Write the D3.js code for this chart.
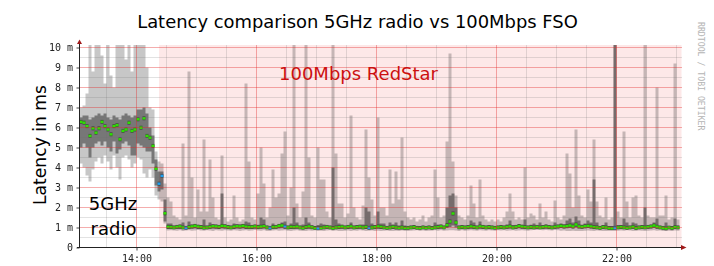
<!DOCTYPE html>
<html>
<head>
<meta charset="utf-8">
<script src="https://cdn.jsdelivr.net/npm/d3@7"></script>
<style>
    body { margin: 0; background: #fff; }
    svg { display: block; font-family: "DejaVu Sans", sans-serif; }
    .tick text { font-family: "DejaVu Sans Mono", monospace; font-size: 10px; fill: #222; }
    .tick line { stroke: #444; }
    .axis { filter: grayscale(100%); }
</style>
</head>
<body>
<div id="chart"></div>
<script>
// samples every 3 minutes, first one at 13:03
var startTime = "13:03";
var stepMinutes = 3;
var endTime = "23:05";
var fsoStart = "14:22:30";

var median = [
    6.28,6.24,6.07,5.58,5.96,5.74,5.96,6.28,6.07,5.9,
    5.66,6.07,6.12,5.41,5.83,5.9,6.24,5.83,5.9,6.41,
    5.99,6.46,5.58,5.49,5.08,3.94,3.19,3.58,1.71,1.03,
    1.02,1.0,1.03,1.05,1.0,0.98,1.02,1.05,1.08,1.04,
    1.02,0.99,1.0,1.03,1.06,1.05,1.03,1.08,1.06,1.02,
    1.0,1.04,1.06,1.05,1.08,1.04,1.02,1.03,1.05,1.02,
    1.04,1.06,1.0,0.98,1.02,1.03,1.08,1.1,1.04,1.0,
    1.03,1.02,1.04,1.0,0.98,1.02,1.05,1.01,0.97,0.96,
    0.98,1.0,1.03,1.0,0.97,1.0,1.02,1.04,1.0,1.03,
    1.05,1.0,1.02,1.04,1.0,1.03,0.98,1.0,1.02,1.05,
    1.03,1.0,0.98,1.0,1.03,1.0,0.98,1.0,0.97,0.98,
    1.0,1.02,0.98,0.97,1.0,0.98,1.0,0.97,1.0,1.02,
    1.05,1.0,1.12,1.3,1.7,1.25,1.0,1.02,1.0,1.02,
    1.05,1.02,1.0,1.05,1.03,1.0,1.02,1.0,0.98,1.0,
    1.02,1.0,1.03,1.05,1.0,1.03,1.07,1.04,1.02,1.0,
    1.02,1.0,1.03,1.0,1.02,1.04,1.02,1.0,1.03,1.05,
    1.08,1.05,1.07,1.1,1.05,1.15,1.05,1.03,1.06,1.08,
    1.05,1.02,1.0,0.98,1.02,1.0,0.97,0.96,0.98,1.0,
    1.02,1.0,0.98,1.0,1.03,0.97,1.0,1.02,1.0,1.03,
    1.05,1.1,1.04,1.0,0.98,0.95,1.0,0.97,1.02,1.0
];

// slowest ping of each sample (values above 10 ms are cut by the graph)
var pingMax = [
    7.0,7.1,7.7,10.5,8.8,10.5,10.5,9.6,8.2,10.5,
    8.6,8.0,10.5,10.5,10.5,9.4,10.5,8.8,10.5,10.5,
    10.5,10.5,9.0,7.0,6.9,4.8,4.3,4.2,3.2,2.5,
    2.3,1.6,1.5,1.4,5.2,1.6,8.8,3.5,1.5,2.9,
    1.8,5.4,1.8,4.4,2.5,1.5,1.4,4.6,1.5,1.3,
    1.4,2.6,1.5,1.3,1.4,8.2,4.3,1.5,1.4,2.7,
    5.0,3.2,1.5,2.0,3.9,2.5,2.7,4.7,5.8,1.6,
    3.0,10.5,2.2,1.5,2.8,10.5,4.5,1.6,1.5,5.0,
    3.4,3.4,1.8,1.5,10.5,4.7,2.2,2.2,1.5,1.7,
    6.6,2.0,1.5,1.4,2.1,5.9,3.5,2.4,1.6,6.5,
    2.0,2.0,1.6,3.9,2.2,3.8,2.4,5.5,1.8,1.5,
    1.4,1.5,1.3,1.4,1.6,1.3,1.5,1.6,3.9,2.5,
    1.5,1.6,5.3,9.7,4.3,2.6,1.6,1.5,1.4,1.6,
    3.1,2.2,1.5,3.4,1.6,1.4,1.3,1.4,1.3,1.4,
    1.3,1.5,1.8,2.7,1.8,1.4,1.5,1.4,4.0,1.5,
    1.7,1.6,1.4,2.2,1.5,1.8,1.4,1.3,2.35,1.5,
    1.4,1.6,4.7,3.7,2.0,5.9,2.6,1.6,1.5,2.9,
    2.3,5.4,2.3,1.6,1.5,2.5,1.4,1.5,10.5,1.8,
    1.5,5.8,2.3,1.5,2.5,2.6,1.6,1.5,10.5,1.6,
    1.5,1.5,8.0,1.6,1.6,2.6,1.4,1.5,9.2,1.4
];

// fastest ping of each sample
var pingMin = [
    4.2,4.0,3.6,3.3,3.9,4.3,4.5,4.2,4.6,4.3,
    3.9,4.6,4.0,3.4,4.5,4.6,4.4,4.0,4.2,4.5,
    4.4,3.7,3.5,3.9,3.5,2.6,2.4,2.3,1.2,0.85,
    0.86,0.85,0.84,0.86,0.83,0.85,0.86,0.84,0.85,0.87,
    0.85,0.84,0.86,0.85,0.83,0.86,0.85,0.84,0.86,0.85,
    0.84,0.86,0.85,0.83,0.85,0.86,0.84,0.85,0.87,0.85,
    0.84,0.86,0.83,0.82,0.85,0.86,0.84,0.85,0.86,0.84,
    0.83,0.85,0.86,0.84,0.82,0.83,0.85,0.84,0.86,0.85,
    0.84,0.83,0.85,0.86,0.84,0.85,0.83,0.82,0.84,0.85,
    0.83,0.85,0.84,0.86,0.85,0.83,0.84,0.85,0.82,0.84,
    0.83,0.84,0.85,0.83,0.82,0.84,0.83,0.85,0.84,0.83,
    0.84,0.85,0.86,0.84,0.85,0.83,0.84,0.85,0.86,0.84,
    0.86,0.84,0.85,0.86,0.86,0.85,0.83,0.86,0.84,0.85,
    0.86,0.85,0.84,0.86,0.85,0.84,0.86,0.85,0.84,0.86,
    0.85,0.86,0.84,0.85,0.86,0.84,0.85,0.86,0.85,0.84,
    0.86,0.88,0.87,0.89,0.86,0.88,0.86,0.85,0.87,0.86,
    0.84,0.85,0.83,0.82,0.84,0.83,0.82,0.83,0.84,0.85,
    0.84,0.83,0.85,0.84,0.83,0.82,0.84,0.85,0.83,0.84,
    0.85,0.84,0.86,0.85,0.83,0.84,0.85,0.84,0.82,0.84,
    0.85,0.86,0.84,0.85,0.83,0.82,0.84,0.83,0.85,0.84
];

// dense part of the smoke, lower and upper edge
var pingLow = [
    5.0,5.2,5.0,4.5,5.0,5.2,5.3,5.1,5.3,5.0,
    4.8,5.3,4.7,4.9,5.2,5.3,5.1,4.6,4.6,5.2,
    5.1,5.0,4.8,4.8,4.2,3.1,2.8,2.9,1.3,0.93,
    0.93,0.92,0.94,0.93,0.92,0.91,0.93,0.94,0.95,0.93,
    0.92,0.91,0.92,0.94,0.95,0.94,0.93,0.95,0.94,0.93,
    0.92,0.93,0.95,0.94,0.95,0.93,0.92,0.93,0.94,0.93,
    0.94,0.95,0.92,0.91,0.93,0.94,0.95,0.96,0.94,0.92,
    0.93,0.92,0.94,0.92,0.91,0.93,0.94,0.92,0.9,0.89,
    0.91,0.92,0.94,0.92,0.9,0.92,0.93,0.94,0.92,0.93,
    0.94,0.92,0.93,0.94,0.92,0.93,0.9,0.91,0.93,0.94,
    0.93,0.92,0.9,0.91,0.92,0.9,0.91,0.9,0.89,0.9,
    0.92,0.93,0.91,0.9,0.92,0.91,0.92,0.9,0.92,0.93,
    0.94,0.92,0.97,1.02,1.1,1.0,0.92,0.93,0.92,0.93,
    0.94,0.93,0.92,0.94,0.93,0.92,0.93,0.92,0.91,0.92,
    0.93,0.92,0.94,0.95,0.92,0.94,0.96,0.94,0.93,0.92,
    0.93,0.92,0.94,0.92,0.93,0.95,0.93,0.92,0.94,0.95,
    0.97,0.95,0.96,0.98,0.95,1.0,0.95,0.94,0.96,0.97,
    0.95,0.93,0.92,0.9,0.93,0.92,0.89,0.88,0.9,0.92,
    0.93,0.92,0.9,0.92,0.94,0.89,0.92,0.93,0.92,0.94,
    0.95,0.98,0.94,0.92,0.9,0.88,0.92,0.89,0.93,0.92
];

var pingHigh = [
    6.5,6.6,6.6,6.4,6.5,6.6,6.7,6.6,6.7,6.5,
    6.4,6.6,6.5,6.4,6.6,6.7,6.6,6.5,6.6,6.9,
    6.9,7.0,6.7,6.0,5.6,4.4,3.8,3.8,2.4,1.2,
    1.2,1.1,1.12,1.15,1.25,1.08,1.3,1.15,1.18,1.14,
    1.12,1.4,1.1,1.25,1.16,1.15,1.13,2.7,1.16,1.12,
    1.1,1.2,1.16,1.15,1.18,1.3,1.25,1.13,1.15,1.14,
    1.5,1.4,1.1,1.08,1.2,1.13,1.18,1.25,1.3,1.1,
    1.2,2.0,1.25,1.1,1.15,1.5,1.25,1.11,1.07,1.12,
    1.2,1.15,1.13,1.1,4.0,1.4,1.2,1.14,1.1,1.13,
    1.25,1.1,1.12,1.14,1.15,2.0,1.8,1.2,1.12,1.8,
    1.2,1.2,1.08,1.25,1.15,1.25,1.1,1.35,1.1,1.08,
    1.1,1.12,1.08,1.07,1.1,1.08,1.1,1.07,1.25,1.15,
    1.15,1.1,2.0,2.6,2.7,2.0,1.1,1.12,1.1,1.12,
    1.35,1.25,1.1,1.3,1.13,1.1,1.12,1.1,1.08,1.1,
    1.12,1.1,1.15,1.35,1.12,1.13,1.17,1.14,1.4,1.1,
    1.14,1.2,1.13,1.25,1.12,1.16,1.12,1.1,1.25,1.15,
    1.2,1.16,1.35,1.45,1.25,1.55,1.35,1.14,1.2,1.35,
    1.25,3.4,1.25,1.08,1.12,1.25,1.07,1.07,10.5,1.12,
    1.12,1.45,1.25,1.1,1.25,1.2,1.1,1.12,2.0,1.13,
    1.15,1.25,1.45,1.1,1.08,1.25,1.07,1.07,1.45,1.1
];

// samples where some pings were lost
var lossTimes = ["14:21", "14:24", "14:48", "16:12", "16:27", "17:00", "17:51", "21:57"];

var yTicks = [0, 1, 2, 3, 4, 5, 6, 7, 8, 9, 10];
var xTicks = ["14:00", "16:00", "18:00", "20:00", "22:00"];

function parseT(s) {
    var p = s.split(":");
    return new Date(2000, 0, 1, +p[0], +p[1], +(p[2] || 0));
}

function fitText(sel, w) {
    var len = sel.node().getComputedTextLength();
    var fs = parseFloat(sel.style("font-size"));
    sel.style("font-size", (fs * w / len) + "px");
}

function init() {
    var W = 714, H = 266;
    var left = 79.5, right = 681.5, top = 45, bottom = 247.5;

    var svg = d3.select("#chart")
        .append("svg")
        .attr("width", W)
        .attr("height", H);

    svg.append("rect").attr("width", W).attr("height", H).attr("fill", "#fff");

    var x = d3.scaleTime()
        .domain([parseT(startTime), parseT(endTime)])
        .range([left, right]);

    var y = d3.scaleLinear()
        .domain([0, 10])
        .range([247.5, 47.5]);

    var t0 = parseT(startTime);
    var times = median.map(function (d, i) { return new Date(+t0 + i * stepMinutes * 60000); });
    var tEnd = new Date(+t0 + median.length * stepMinutes * 60000);
    var lossSet = {};
    lossTimes.forEach(function (s) { lossSet[+parseT(s)] = true; });

    // pink background for the FSO period
    svg.append("rect")
        .attr("x", x(parseT(fsoStart)))
        .attr("y", top)
        .attr("width", right - x(parseT(fsoStart)))
        .attr("height", bottom - top)
        .attr("fill", "#fde8e8");

    svg.append("defs").append("clipPath")
        .attr("id", "clip")
        .append("rect")
        .attr("x", left)
        .attr("y", top)
        .attr("width", right - left)
        .attr("height", bottom - top);

    var plot = svg.append("g").attr("clip-path", "url(#clip)");

    function band(lo, hi) {
        var pts = times.map(function (t, i) { return { t: t, lo: lo[i], hi: hi[i] }; });
        pts.push({ t: tEnd, lo: lo[lo.length - 1], hi: hi[hi.length - 1] });
        return d3.area()
            .x(function (d) { return x(d.t); })
            .y0(function (d) { return y(d.lo); })
            .y1(function (d) { return y(d.hi); })
            .curve(d3.curveStepAfter)(pts);
    }

    plot.append("path")
        .attr("d", band(pingMin, pingMax))
        .attr("fill", "#000")
        .attr("fill-opacity", 0.22);

    plot.append("path")
        .attr("d", band(pingLow, pingHigh))
        .attr("fill", "#000")
        .attr("fill-opacity", 0.4);

    // median: short dark halo and a coloured bar per sample
    function stepWidth(i) {
        return x(new Date(+times[i] + stepMinutes * 60000)) - x(times[i]);
    }

    plot.selectAll("rect.halo")
        .data(median)
        .enter()
        .append("rect")
        .attr("class", "halo")
        .attr("x", function (d, i) { return x(times[i]); })
        .attr("width", function (d, i) { return stepWidth(i); })
        .attr("y", function (d) { return y(d) - 2; })
        .attr("height", 4)
        .attr("fill", "#000")
        .attr("fill-opacity", 0.4);

    plot.selectAll("rect.med")
        .data(median)
        .enter()
        .append("rect")
        .attr("class", "med")
        .attr("x", function (d, i) { return x(times[i]); })
        .attr("width", function (d, i) { return stepWidth(i); })
        .attr("y", function (d) { return y(d) - 1.25; })
        .attr("height", 2.5)
        .attr("fill", function (d, i) { return lossSet[+times[i]] ? "#1ea0f0" : "#2ee000"; });

    // grid on top of the data
    var grid = svg.append("g").attr("shape-rendering", "crispEdges");
    d3.range(1, 21).forEach(function (k) {
        var v = k / 2;
        grid.append("line")
            .attr("x1", left).attr("x2", right)
            .attr("y1", y(v)).attr("y2", y(v))
            .attr("stroke", k % 2 ? "rgba(110,110,110,0.2)" : "rgba(225,40,40,0.38)");
    });

    var gt = d3.timeMinute.every(30).range(parseT("13:30"), parseT(endTime));
    gt.forEach(function (t) {
        var major = t.getMinutes() === 0 && t.getHours() % 2 === 0;
        grid.append("line")
            .attr("x1", x(t)).attr("x2", x(t))
            .attr("y1", top).attr("y2", bottom)
            .attr("stroke", major ? "rgba(225,40,40,0.38)" : "rgba(110,110,110,0.2)");
    });

    // axes
    var yAxis = svg.append("g")
        .attr("class", "axis")
        .attr("transform", "translate(" + left + ",0)")
        .call(d3.axisLeft(y)
            .tickValues(yTicks)
            .tickSize(3)
            .tickPadding(3.5)
            .tickFormat(function (d) { return d === 0 ? "0" : d + " m"; }));
    yAxis.select(".domain").remove();

    var xAxis = svg.append("g")
        .attr("class", "axis")
        .attr("transform", "translate(0," + bottom + ")")
        .call(d3.axisBottom(x)
            .tickValues(xTicks.map(parseT))
            .tickSize(3)
            .tickPadding(4)
            .tickFormat(d3.timeFormat("%H:%M")));
    xAxis.select(".domain").remove();

    svg.append("line")
        .attr("x1", left).attr("x2", left)
        .attr("y1", bottom).attr("y2", 43)
        .attr("stroke", "#222").attr("shape-rendering", "crispEdges");
    svg.append("line")
        .attr("x1", left - 3).attr("x2", 681)
        .attr("y1", bottom).attr("y2", bottom)
        .attr("stroke", "#222").attr("shape-rendering", "crispEdges");
    svg.append("path")
        .attr("d", "M77,44 L82,44 L79.5,39.5 Z")
        .attr("fill", "#a01818");
    svg.append("path")
        .attr("d", "M681,245 L681,250 L686.5,247.5 Z")
        .attr("fill", "#a01818");

    // texts
    var title = svg.append("text")
        .attr("x", 357.5).attr("y", 28)
        .attr("text-anchor", "middle")
        .style("font-size", "18px")
        .attr("fill", "#000")
        .text("Latency comparison 5GHz radio vs 100Mbps FSO");
    fitText(title, 441);

    var ylab = svg.append("text")
        .attr("transform", "translate(46,145) rotate(-90)")
        .attr("text-anchor", "middle")
        .style("font-size", "17px")
        .attr("fill", "#000")
        .text("Latency in ms");
    fitText(ylab, 120);

    svg.append("text")
        .attr("x", 113).attr("y", 210)
        .attr("text-anchor", "middle")
        .style("font-size", "18px")
        .attr("fill", "#000")
        .text("5GHz");
    svg.append("text")
        .attr("x", 113.5).attr("y", 234.5)
        .attr("text-anchor", "middle")
        .style("font-size", "18px")
        .attr("fill", "#000")
        .text("radio");

    svg.append("text")
        .attr("x", 358.5).attr("y", 80)
        .attr("text-anchor", "middle")
        .style("font-size", "18px")
        .attr("fill", "#cc1010")
        .text("100Mbps RedStar");

    svg.append("text")
        .attr("transform", "translate(698,22) rotate(90)")
        .style("font-family", "'DejaVu Sans Mono', monospace")
        .style("font-size", "8.2px")
        .attr("fill", "#b4b4b4")
        .text("RRDTOOL / TOBI OETIKER");
}

window.onload = init;
</script>
</body>
</html>
